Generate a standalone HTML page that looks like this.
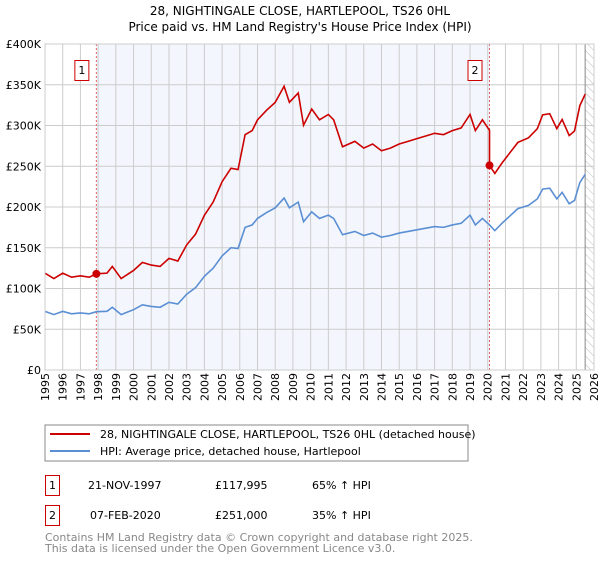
<!DOCTYPE html>
<html><head><meta charset="utf-8"><style>
body{margin:0;background:#fff;font-family:"DejaVu Sans","Liberation Sans",sans-serif;}
svg text{font-family:"DejaVu Sans","Liberation Sans",sans-serif;}
</style></head><body>
<svg id="c" width="600" height="560" xmlns="http://www.w3.org/2000/svg">
<defs><pattern id="hatch" width="6" height="6" patternUnits="userSpaceOnUse" patternTransform="rotate(-45)"><line x1="0" y1="0" x2="0" y2="6" stroke="#bbb" stroke-width="1"/></pattern></defs>
<text x="300" y="15" text-anchor="middle" font-size="12">28, NIGHTINGALE CLOSE, HARTLEPOOL, TS26 0HL</text>
<text x="300" y="31" text-anchor="middle" font-size="12">Price paid vs. HM Land Registry's House Price Index (HPI)</text>
<g id="plot"></g>
<rect x="45" y="425" width="423" height="36" fill="#fff" stroke="#888"/>
<line x1="50" y1="434" x2="90" y2="434" stroke="#cc0000" stroke-width="2"/>
<text x="100" y="438" font-size="11">28, NIGHTINGALE CLOSE, HARTLEPOOL, TS26 0HL (detached house)</text>
<line x1="50" y1="451" x2="90" y2="451" stroke="#5b8fd4" stroke-width="2"/>
<text x="100" y="455" font-size="11">HPI: Average price, detached house, Hartlepool</text>
<g>
<rect x="45.5" y="475.5" width="14" height="20" fill="#fff" stroke="#cc0000"/>
<text x="52.5" y="489" text-anchor="middle" font-size="11">1</text>
<text x="88" y="489" font-size="11">21-NOV-1997</text>
<text x="215" y="489" font-size="11">£117,995</text>
<text x="312" y="489" font-size="11">65% ↑ HPI</text></g>
<g>
<rect x="45.5" y="505.5" width="14" height="20" fill="#fff" stroke="#cc0000"/>
<text x="52.5" y="519" text-anchor="middle" font-size="11">2</text>
<text x="90" y="519" font-size="11">07-FEB-2020</text>
<text x="215" y="519" font-size="11">£251,000</text>
<text x="312" y="519" font-size="11">35% ↑ HPI</text></g>
<text x="45" y="541" font-size="11" fill="#888">Contains HM Land Registry data © Crown copyright and database right 2025.</text>
<text x="45" y="552" font-size="11" fill="#888">This data is licensed under the Open Government Licence v3.0.</text>
</svg>
<script>
const hpiYears=[1995,1995.5,1996,1996.5,1997,1997.5,1997.9,1998.5,1998.8,1999.3,2000,2000.5,2001,2001.5,2002,2002.5,2003,2003.5,2004,2004.5,2005,2005.5,2005.9,2006.3,2006.7,2007,2007.5,2008,2008.5,2008.8,2009.3,2009.6,2010.06,2010.5,2011,2011.3,2011.8,2012.5,2013,2013.5,2014,2014.5,2015,2015.5,2016,2016.5,2017,2017.5,2018,2018.5,2019,2019.3,2019.7,2020.1,2020.4,2020.8,2021.2,2021.7,2022.3,2022.8,2023.1,2023.5,2023.9,2024.2,2024.6,2024.9,2025.2,2025.5];
const hpiValues=[72,68,72,69,70,69,71.5,72,77,68,74,80,78,77,83,81,93,101,115,125,140,150,149,175,178,186,193,199,211,199,206,182,194,186,190,186,166,170,165,168,163,165,168,170,172,174,176,175,178,180,190,178,186,178,171,180,188,198,202,210,222,223,210,218,204,208,230,240];
const saleYears=[1997.9,2020.1];
const salePrices=[117.995,251];
const saleLabels=["1","2"];
const yTicks=[0,50,100,150,200,250,300,350,400];
const yTickLabels=["£0","£50K","£100K","£150K","£200K","£250K","£300K","£350K","£400K"];
const xTicks=[1995,1996,1997,1998,1999,2000,2001,2002,2003,2004,2005,2006,2007,2008,2009,2010,2011,2012,2013,2014,2015,2016,2017,2018,2019,2020,2021,2022,2023,2024,2025,2026];
const dataEnd=2025.5;
const L=45,R=594,T=44,B=370,X0=1995,X1=2026,YMAX=400;
const X=v=>L+(v-X0)/(X1-X0)*(R-L);
const Y=v=>B-v/YMAX*(B-T);
const NS="http://www.w3.org/2000/svg";
const g=document.getElementById('plot');
function mk(t,a){const e=document.createElementNS(NS,t);for(const k in a)e.setAttribute(k,a[k]);g.appendChild(e);return e;}
function hpiAt(y){for(let i=0;i<hpiYears.length-1;i++){if(y<=hpiYears[i+1])return hpiValues[i]+(hpiValues[i+1]-hpiValues[i])*(y-hpiYears[i])/(hpiYears[i+1]-hpiYears[i]);}return hpiValues[hpiValues.length-1];}
let e=mk('rect',{x:X(saleYears[0]),y:T,width:X(saleYears[1])-X(saleYears[0]),height:B-T,fill:'#f3f6fd'});

e=mk('rect',{x:X(dataEnd),y:T,width:R-X(dataEnd),height:B-T,fill:'url(#hatch)'});

xTicks.forEach(t=>{e=mk('line',{x1:X(t),x2:X(t),y1:T,y2:B,stroke:'#ccc'});

e=mk('text',{x:0,y:0,'font-size':11,'text-anchor':'end',transform:`translate(${X(t)+4},${B+3}) rotate(-90)`});e.textContent=t;
});
yTicks.forEach((t,i)=>{e=mk('line',{x1:L,x2:R,y1:Y(t),y2:Y(t),stroke:'#ccc'});

e=mk('text',{x:L-4,y:Y(t)+4,'font-size':11,'text-anchor':'end'});e.textContent=yTickLabels[i];
});
e=mk('line',{x1:X(dataEnd),x2:X(dataEnd),y1:T,y2:B,stroke:'#888'});

saleYears.forEach((s,i)=>{e=mk('line',{x1:X(s),x2:X(s),y1:T,y2:B,stroke:'#e06060','stroke-dasharray':'2,2'});
});
// red series: HPI indexed to each sale
const red=[];
hpiYears.forEach((y,i)=>{const k=y<saleYears[1]?0:1;red.push([y,hpiValues[i]*salePrices[k]/hpiAt(saleYears[k])]);});
red.splice(hpiYears.indexOf(saleYears[1]),0,[saleYears[1],hpiAt(saleYears[1]-0.01)*salePrices[0]/hpiAt(saleYears[0])]);
e=mk('polyline',{points:hpiYears.map((y,i)=>X(y)+','+Y(hpiValues[i])).join(' '),fill:'none',stroke:'#5b8fd4','stroke-width':1.6});

e=mk('polyline',{points:red.map(p=>X(p[0])+','+Y(p[1])).join(' '),fill:'none',stroke:'#cc0000','stroke-width':1.6});

saleYears.forEach((s,i)=>{e=mk('circle',{cx:X(s),cy:Y(salePrices[i]),r:4,fill:'#cc0000'});

e=mk('rect',{x:X(s)-21.5,y:60.5,width:14,height:20,fill:'#fff',stroke:'#cc0000'});

e=mk('text',{x:X(s)-14.5,y:74,'font-size':11,'text-anchor':'middle'});e.textContent=saleLabels[i];
});
e=mk('rect',{x:L,y:T,width:R-L,height:B-T,fill:'none',stroke:'#ccc'});

</script>
</body></html>
